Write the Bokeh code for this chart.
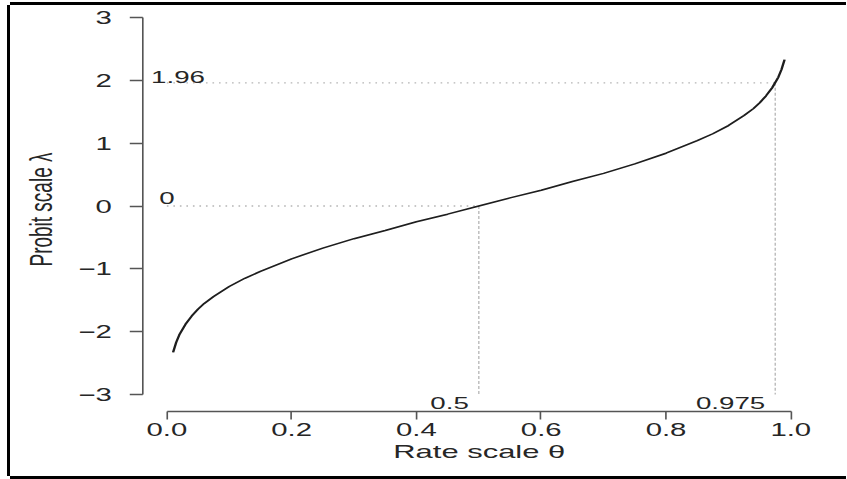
from bokeh.plotting import figure
from bokeh.models import FixedTicker, InlineStyleSheet
from bokeh.embed import file_html
from bokeh.resources import INLINE
from bokeh.core.properties import value

# ---- data ----
theta = [0.01, 0.015, 0.02, 0.03, 0.04, 0.05, 0.06, 0.075, 0.1, 0.125, 0.15, 0.2, 0.25, 0.3,
         0.35, 0.4, 0.45, 0.5, 0.55, 0.6, 0.65, 0.7, 0.75, 0.8, 0.85, 0.875, 0.9, 0.925,
         0.94, 0.95, 0.96, 0.97, 0.98, 0.985, 0.99]
probit = [-2.33, -2.17, -2.05, -1.88, -1.75, -1.64, -1.55, -1.44, -1.28, -1.15, -1.04, -0.84,
          -0.67, -0.52, -0.39, -0.25, -0.13, 0.0, 0.13, 0.25, 0.39, 0.52, 0.67, 0.84, 1.04,
          1.15, 1.28, 1.44, 1.55, 1.64, 1.75, 1.88, 2.05, 2.17, 2.33]

ref_theta = [0.5, 0.975]      # reference rates
ref_lambda = [0.0, 1.96]      # matching probit values
ref_theta_labels = ["0.5", "0.975"]
ref_lambda_labels = ["0", "1.96"]

x_ticks = [0.0, 0.2, 0.4, 0.6, 0.8, 1.0]
x_tick_labels = ["0.0", "0.2", "0.4", "0.6", "0.8", "1.0"]
y_ticks = [-3, -2, -1, 0, 1, 2, 3]
y_tick_labels = ["\u22123", "\u22122", "\u22121", "0", "1", "2", "3"]

x_title = "Rate scale \u03b8"
y_title = "Probit scale \u03bb"

# ---- figure (the source picture is stretched horizontally; reproduce with scaleX
#      applied to the drawing surface only, so Bokeh's own layout keeps its size) ----
SX = 1.6296
W, H = 513, 471
p = figure(width=W, height=H, x_range=(-0.0385, 1.0401), y_range=(-3.27, 3.159),
           output_backend="svg", toolbar_location=None,
           min_border_left=81, min_border_right=19, min_border_top=2, min_border_bottom=65)
p.styles = {"margin-left": "10px", "margin-top": "5px"}
p.stylesheets = [InlineStyleSheet(css=(
    ".bk-Canvas { transform: scaleX(%s); transform-origin: 0 0; "
    "box-shadow: -1.84px 0 0 0 #000, 0 -3px 0 0 #000, 0 3px 0 0 #000; }" % SX))]
p.outline_line_color = None
p.grid.visible = False
p.background_fill_color = "white"
p.border_fill_color = "white"

FONT = "Liberation Sans"
TXT = "#262626"
AX = "#555555"

# x axis
xa = p.xaxis[0]
xa.ticker = FixedTicker(ticks=x_ticks)
xa.major_label_overrides = {t: l for t, l in zip(x_ticks, x_tick_labels)}
xa.bounds = (x_ticks[0], x_ticks[-1])
xa.axis_line_color = AX
xa.axis_line_width = 1.6
xa.major_tick_line_color = AX
xa.major_tick_line_width = 1.0
xa.major_tick_out = 8
xa.major_tick_in = 0
xa.minor_tick_line_color = None
xa.major_label_standoff = 4
xa.major_label_text_font = FONT
xa.major_label_text_font_size = "18px"
xa.major_label_text_color = TXT
xa.axis_label = x_title
xa.axis_label_text_font = FONT
xa.axis_label_text_font_size = "19px"
xa.axis_label_text_font_style = "normal"
xa.axis_label_text_color = TXT
xa.axis_label_standoff = 2

# y axis
ya = p.yaxis[0]
ya.ticker = FixedTicker(ticks=y_ticks)
ya.major_label_overrides = {t: l for t, l in zip(y_ticks, y_tick_labels)}
ya.bounds = (y_ticks[0], y_ticks[-1])
ya.axis_line_color = AX
ya.axis_line_width = 1.0
ya.major_tick_line_color = AX
ya.major_tick_line_width = 1.6
ya.major_tick_out = 8
ya.major_tick_in = 0
ya.minor_tick_line_color = None
ya.major_label_standoff = 11
ya.major_label_orientation = "horizontal"
ya.major_label_text_font = FONT
ya.major_label_text_font_size = "18px"
ya.major_label_text_color = TXT
ya.axis_label = y_title
ya.axis_label_text_font = FONT
ya.axis_label_text_font_size = "19px"
ya.axis_label_text_font_style = "normal"
ya.axis_label_text_color = TXT
ya.axis_label_standoff = 9

# reference guide lines (dotted)
GUIDE = "#b5b5b5"
y_bottom = y_ticks[0]
x_left = x_ticks[0]
for th, la in zip(ref_theta, ref_lambda):
    p.line([x_left, th], [la, la], line_color=GUIDE, line_width=1.3, line_dash="1 3")
    p.line([th, th], [la, y_bottom], line_color=GUIDE, line_width=0.8, line_dash="3 2")

# probit curve
p.line(theta, probit, line_color="#1e1e1e", line_width=1.5)

# labels
p.text(x=[x_left + 0.018], y=[ref_lambda[1] + 0.1], text=[ref_lambda_labels[1]],
       text_font=value(FONT), text_font_size="17px", text_color=TXT,
       text_align="center", text_baseline="alphabetic")
p.text(x=[x_left], y=[ref_lambda[0] + 0.12], text=[ref_lambda_labels[0]],
       text_font=value(FONT), text_font_size="17px", text_color=TXT,
       text_align="center", text_baseline="alphabetic")
p.text(x=[t - 0.016 for t in ref_theta], y=[y_bottom - 0.13] * 2, text=ref_theta_labels,
       text_font=value(FONT), text_font_size="17px", text_color=TXT,
       text_align="right", text_baseline="alphabetic")

open("out.html", "w").write(file_html(p, INLINE))
